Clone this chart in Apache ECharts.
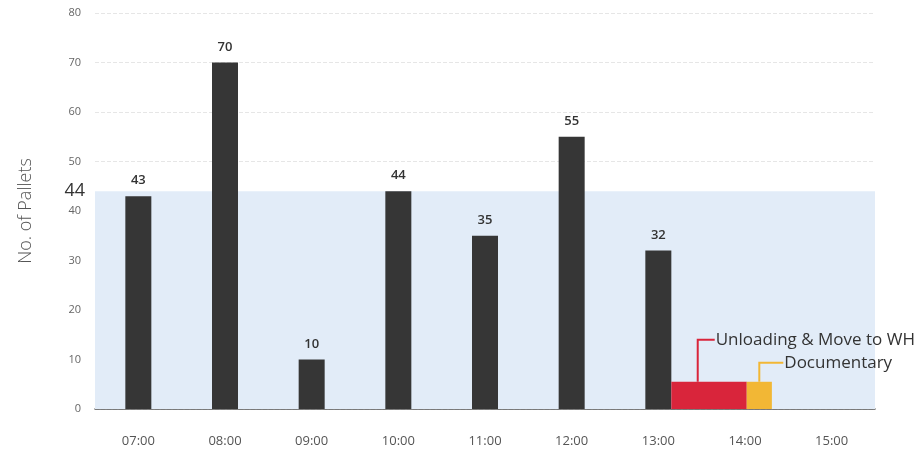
<!DOCTYPE html>
<html><head><meta charset="utf-8">
<script src="https://cdn.jsdelivr.net/npm/echarts@6/dist/echarts.min.js"></script>
<style>html,body{margin:0;padding:0;background:#fff}#c{width:922px;height:456px}</style>
</head><body><div id="c"></div>
<script>
const categories = ['07:00','08:00','09:00','10:00','11:00','12:00','13:00','14:00','15:00'];
const pallets = [43, 70, 10, 44, 35, 55, 32, null, null];
const yTicks = [0, 10, 20, 30, 40, 50, 60, 70, 80];
const capacity = 44;
// phase bars on an hour scale (hidden value axis)
const phaseNames = ['Unloading & Move to WH', 'Documentary'];
const phaseStart = [13.15, 14.02];
const phaseEnd = [14.02, 14.31];
const phaseValue = [5.5, 5.5];

const phaseColors = ['#d9253b', '#f2b735'];
const leaderOffsets = [{dx: 0.35, up: 42, run: 17}, {dx: 0.5, up: 19, run: 24}];

const chart = echarts.init(document.getElementById('c'));
chart.setOption({
  animation: false,
  grid: {left: 95, right: 47, top: 13, bottom: 47},
  xAxis: [{
    type: 'category', data: categories,
    axisLine: {lineStyle: {color: '#555', width: 1.5}},
    axisTick: {show: false},
    axisLabel: {color: '#555', fontSize: 13, margin: 26, fontFamily: 'Open Sans'}
  }, {
    type: 'value', min: 6.5, max: 15.5, show: false
  }],
  yAxis: {
    type: 'value', min: yTicks[0], max: yTicks[yTicks.length - 1], interval: 10,
    name: 'No. of Pallets', nameLocation: 'middle', nameGap: 60, nameRotate: 90,
    nameTextStyle: {color: '#555', fontSize: 18, fontFamily: 'Open Sans', fontWeight: 300},
    axisLine: {show: false}, axisTick: {show: false},
    axisLabel: {color: '#666', fontSize: 11, margin: 14, fontFamily: 'Open Sans'},
    splitLine: {lineStyle: {color: '#e6e6e6', type: 'dashed'}}
  },
  series: [{
    type: 'bar', data: pallets, barWidth: 26, xAxisIndex: 0,
    itemStyle: {color: '#363636'},
    label: {show: true, position: 'top', distance: 9, color: '#333', fontSize: 13, fontFamily: 'Open Sans', fontWeight: 600},
    markArea: {
      silent: true,
      itemStyle: {color: '#e2ecf8'},
      data: [[{yAxis: 0}, {yAxis: capacity}]]
    },
    markLine: {
      silent: true, symbol: 'none',
      lineStyle: {color: 'transparent', width: 0},
      label: {show: true, position: 'start', formatter: String(capacity), color: '#333', fontSize: 18, fontFamily: 'Open Sans', distance: 10},
      data: [{yAxis: capacity}]
    },
    z: 3
  }, {
    type: 'custom', xAxisIndex: 1, z: 4,
    data: phaseNames.map((n, i) => [phaseStart[i], phaseEnd[i], phaseValue[i], i]),
    renderItem: function (params, api) {
      const i = api.value(3);
      const p0 = api.coord([api.value(0), api.value(2)]);
      const p1 = api.coord([api.value(1), 0]);
      const col = phaseColors[i];
      const o = leaderOffsets[i];
      const lx = p0[0] + (p1[0] - p0[0]) * o.dx;
      const ty = p0[1];
      return {
        type: 'group',
        children: [{
          type: 'rect',
          shape: {x: p0[0], y: p0[1], width: p1[0] - p0[0], height: p1[1] - p0[1]},
          style: {fill: col}
        }, {
          type: 'polyline',
          shape: {points: [[lx, ty], [lx, ty - o.up], [lx + o.run, ty - o.up]]},
          style: {stroke: col, lineWidth: 2, fill: null}
        }, {
          type: 'text',
          style: {text: phaseNames[i], x: lx + o.run + 1, y: ty - o.up, verticalAlign: 'middle', align: 'left',
                  fill: '#333', fontSize: 17, fontFamily: 'Open Sans'}
        }]
      };
    }
  }]
});
</script></body></html>
